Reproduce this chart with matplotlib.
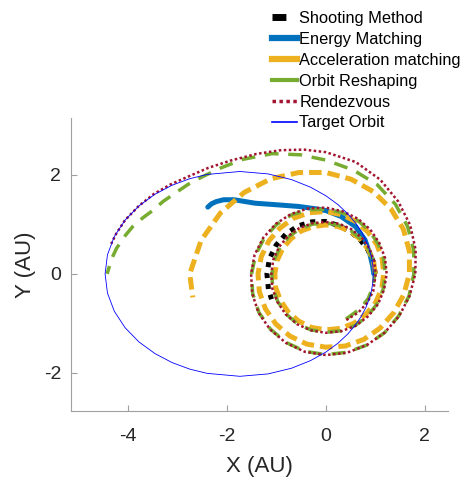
import numpy as np
import matplotlib
matplotlib.use('Agg')
import matplotlib.pyplot as plt
from matplotlib.lines import Line2D

plt.rcParams['font.family'] = ['Liberation Sans', 'DejaVu Sans']
plt.rcParams['axes.unicode_minus'] = False

# polar samples (angle in degrees, cumulative over revolutions; radius in AU)
shoot_theta = [0, 15, 30, 45, 60, 75, 90, 105, 120, 135, 150, 165, 180, 195, 205]
shoot_r = [1.00, 0.99, 0.98, 0.98, 0.99, 1.01, 1.06, 1.09, 1.12, 1.14, 1.16, 1.18, 1.19, 1.20, 1.21]

energy_theta = [0, 10, 25, 41, 58, 75, 90, 100, 112, 124, 135, 141, 144, 146.5, 148.5, 150.5]
energy_r = [0.97, 0.96, 0.98, 1.05, 1.13, 1.20, 1.28, 1.34, 1.47, 1.68, 2.02, 2.38, 2.55, 2.65, 2.71, 2.74]

accel_theta = list(range(0, 901, 15)) + [910]
accel_r = [1.00, 1.00, 0.99, 0.99, 0.99, 0.99, 0.99, 0.99, 1.00, 1.00, 1.01, 1.02, 1.03,   # 0-180
           1.05, 1.06, 1.08, 1.10, 1.12, 1.13, 1.14, 1.15, 1.15, 1.16, 1.17, 1.17,          # 195-360
           1.18, 1.19, 1.20, 1.22, 1.24, 1.26, 1.28, 1.30, 1.31, 1.33, 1.35, 1.37,          # 375-540
           1.39, 1.41, 1.43, 1.45, 1.47, 1.48, 1.51, 1.53, 1.55, 1.58, 1.63, 1.69,          # 555-720
           1.75, 1.81, 1.86, 1.92, 1.98, 2.05, 2.12, 2.22, 2.33, 2.46, 2.61, 2.75,          # 735-900
           2.73]

reshape_theta = ([-66, -45, -30, -15] + list(range(0, 811, 15)) +
                 [822, 834, 846, 855, 862, 867, 872, 876, 880, 883, 886, 889, 893, 896, 900])
reshape_r = [1.00, 0.99, 0.99, 0.99,
             0.99, 0.99, 1.00, 1.00, 1.01, 1.02, 1.03, 1.04, 1.05, 1.06, 1.07, 1.08, 1.09,   # 0-180
             1.11, 1.12, 1.14, 1.16, 1.17, 1.18, 1.19, 1.20, 1.20, 1.20, 1.20, 1.20,         # 195-360
             1.21, 1.22, 1.24, 1.26, 1.28, 1.31, 1.34, 1.38, 1.41, 1.44, 1.47, 1.50,         # 375-540
             1.53, 1.56, 1.58, 1.60, 1.62, 1.63, 1.64, 1.66, 1.68, 1.70, 1.74, 1.78,         # 555-720
             1.84, 1.91, 1.99, 2.08, 2.17, 2.30,                                             # 735-810
             2.46, 2.66, 2.86, 3.02, 3.18, 3.32, 3.46, 3.60, 3.73, 3.87, 4.01, 4.12, 4.26, 4.34, 4.42]

rendez_theta = ([-66, -50, -35, -20] + list(range(0, 811, 15)) +
                [820, 830, 840, 850, 858, 864, 870, 875, 880, 885, 889, 892])
rendez_r = [1.02, 1.02, 1.02, 1.02,
            1.01, 1.01, 1.02, 1.03, 1.04, 1.05, 1.05, 1.06, 1.07, 1.08, 1.09, 1.10, 1.10,    # 0-180
            1.12, 1.13, 1.15, 1.17, 1.18, 1.19, 1.20, 1.21, 1.21, 1.22, 1.22, 1.23,          # 195-360
            1.24, 1.25, 1.27, 1.29, 1.31, 1.34, 1.37, 1.40, 1.43, 1.46, 1.49, 1.51,          # 375-540
            1.54, 1.57, 1.59, 1.61, 1.63, 1.64, 1.65, 1.66, 1.68, 1.71, 1.75, 1.81,          # 555-720
            1.88, 1.97, 2.07, 2.20, 2.34, 2.46,                                              # 735-810
            2.55, 2.66, 2.80, 2.99, 3.20, 3.38, 3.62, 3.83, 4.02, 4.20, 4.31, 4.38]

target_theta = [0, 10, 20, 30, 40, 50, 60, 70, 80, 90, 100, 110, 120, 130, 140, 145, 150, 155, 160, 165,
                170, 175, 180, 185, 190, 195, 200, 205, 210, 215, 220, 230, 240, 250, 260, 270, 280, 290,
                300, 310, 320, 330, 340, 350, 360]
target_r = [0.960, 0.966, 0.983, 1.013, 1.057, 1.117, 1.194, 1.294, 1.421, 1.580, 1.779, 2.028, 2.333,
            2.701, 3.127, 3.355, 3.585, 3.810, 4.019, 4.200, 4.341, 4.430, 4.461, 4.430, 4.341, 4.200,
            4.019, 3.810, 3.585, 3.355, 3.127, 2.701, 2.333, 2.028, 1.779, 1.580, 1.421, 1.294, 1.194,
            1.117, 1.057, 1.013, 0.983, 0.966, 0.960]

labels = ['Shooting Method', 'Energy Matching', 'Acceleration matching', 'Orbit Reshaping',
          'Rendezvous', 'Target Orbit']


def to_xy(theta, r):
    t = np.radians(np.array(theta, dtype=float))
    r = np.array(r, dtype=float)
    return r * np.cos(t), r * np.sin(t)


fig = plt.figure(figsize=(4.64, 4.8), dpi=100)
ax = fig.add_axes([71 / 464, 69 / 480, 377 / 464, 293 / 480])

c_black = 'black'
c_blue = '#0072BD'
c_orange = '#EDB120'
c_green = '#77AC30'
c_red = '#A2142F'
c_target = '#0000FF'

x, y = to_xy(shoot_theta, shoot_r)
ax.plot(x, y, color=c_black, lw=3.6, linestyle=(0, (1, 1.2)), dash_capstyle='butt')
x, y = to_xy(energy_theta, energy_r)
ax.plot(x, y, color=c_blue, lw=3.6, solid_capstyle='round')
x, y = to_xy(accel_theta, accel_r)
ax.plot(x, y, color=c_orange, lw=3.6, linestyle=(0, (2.5, 1.2)))
x, y = to_xy(reshape_theta, reshape_r)
ax.plot(x, y, color=c_green, lw=2.5, linestyle=(0, (4, 2.8)))
x, y = to_xy(rendez_theta, rendez_r)
ax.plot(x, y, color=c_red, lw=1.8, linestyle=(0, (1, 1)))
x, y = to_xy(target_theta, target_r)
ax.plot(x, y, color=c_target, lw=0.6)

ax.set_xlim(-5.15, 2.47)
ax.set_ylim(-2.77, 3.15)
ax.set_xticks([-4, -2, 0, 2])
ax.set_yticks([-2, 0, 2])
for s in ['top', 'right']:
    ax.spines[s].set_visible(False)
for s in ['left', 'bottom']:
    ax.spines[s].set_color('#a0a0a0')
    ax.spines[s].set_linewidth(0.8)
ax.tick_params(direction='in', length=4, color='#a0a0a0', labelsize=14, labelcolor='#262626')
ax.tick_params(axis='x', pad=12.5)
ax.tick_params(axis='y', pad=7)
ax.set_xlabel('X (AU)', fontsize=16, color='#262626', labelpad=8)
ax.set_ylabel('Y (AU)', fontsize=16, color='#262626', labelpad=6)

# legend handles drawn as short bars like the original
handles = [
    Line2D([], [], color=c_black, lw=5, linestyle=(0, (2, 2)), dash_capstyle='butt'),
    Line2D([], [], color=c_blue, lw=4.5),
    Line2D([], [], color=c_orange, lw=4.5),
    Line2D([], [], color=c_green, lw=3),
    Line2D([], [], color=c_red, lw=2.5, linestyle=(0, (1, 1))),
    Line2D([], [], color=c_target, lw=1.2),
]
fig.legend(handles, labels, loc='upper left', bbox_to_anchor=(272 / 464, 1 - 11 / 480),
           frameon=False, fontsize=11.8, handlelength=1.55, handletextpad=0.12,
           labelspacing=0.36, borderpad=0, borderaxespad=0)

fig.savefig('out.png', dpi=100)
